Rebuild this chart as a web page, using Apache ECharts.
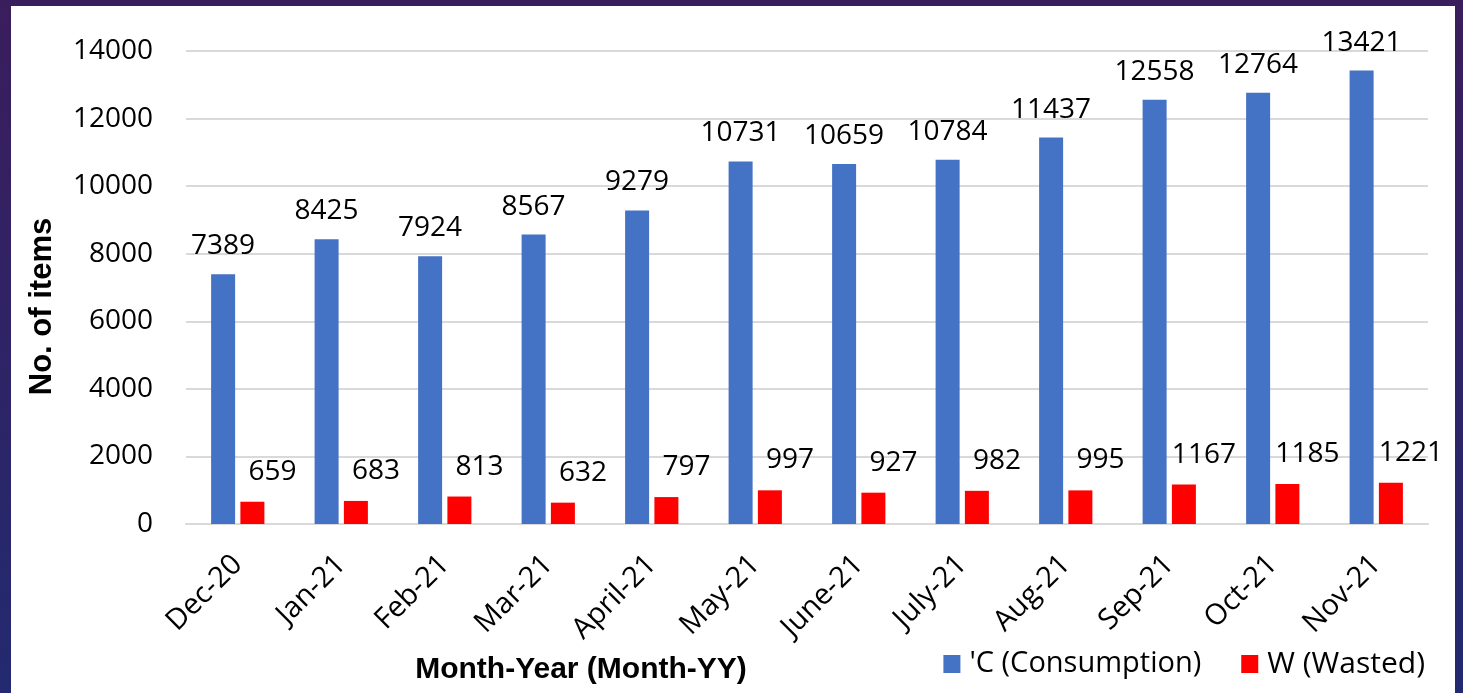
<!DOCTYPE html>
<html><head><meta charset="utf-8">
<script src="https://cdn.jsdelivr.net/npm/echarts@6/dist/echarts.min.js"></script>
<style>html,body{margin:0;padding:0;background:#2a2060;}#c{width:1463px;height:693px;}</style>
</head><body><div id="c"></div>
<script>
const categories = ['Dec-20','Jan-21','Feb-21','Mar-21','April-21','May-21','June-21','July-21','Aug-21','Sep-21','Oct-21','Nov-21'];
const consumption = [7389,8425,7924,8567,9279,10731,10659,10784,11437,12558,12764,13421];
const wasted = [659,683,813,632,797,997,927,982,995,1167,1185,1221];
const yTicks = {min:0, max:14000, interval:2000};
const seriesNames = ["'C (Consumption)", 'W (Wasted)'];

const FONT = '"Open Sans", "Noto Sans", sans-serif';
const BOLD = '"Liberation Sans", Arial, sans-serif';
const chart = echarts.init(document.getElementById('c'), null, {renderer:'canvas'});
chart.setOption({
  animation:false,
  backgroundColor:{type:'linear',x:0,y:0,x2:0,y2:1,colorStops:[{offset:0,color:'#3a1d5c'},{offset:1,color:'#232a70'}]},
  graphic:[{type:'rect',shape:{x:11,y:6,width:1444,height:700},style:{fill:'#ffffff'},z:-10}],
  grid:{left:186,right:35,top:51,bottom:169,containLabel:false},
  legend:{
    right:33, bottom:9, itemWidth:17, itemHeight:18, itemGap:40, icon:'rect',
    textStyle:{fontFamily:FONT,fontSize:29,color:'#000',padding:[0,0,0,4]},
    data:[{name:seriesNames[0]},{name:seriesNames[1],textStyle:{fontSize:30}}]
  },
  xAxis:{
    type:'category', data:categories,
    axisLine:{lineStyle:{color:'#d9d9d9',width:2}}, axisTick:{show:false},
    axisLabel:{rotate:45,fontFamily:FONT,fontSize:29,color:'#000',margin:36,interval:0},
    name:'Month-Year (Month-YY)', nameLocation:'middle', nameGap:131,
    nameTextStyle:{fontFamily:BOLD,fontWeight:'bold',fontSize:30,color:'#000',padding:[0,452,0,0]}
  },
  yAxis:{
    type:'value', min:yTicks.min, max:yTicks.max, interval:yTicks.interval,
    axisLine:{show:false}, axisTick:{show:false},
    splitLine:{lineStyle:{color:'#d9d9d9',width:2}},
    axisLabel:{fontFamily:FONT,fontSize:28,color:'#000',margin:33,formatter:v=>String(v)},
    name:'No. of items', nameLocation:'middle', nameGap:128,
    nameTextStyle:{fontFamily:BOLD,fontWeight:'bold',fontSize:31,color:'#000',padding:[0,38,0,0]}
  },
  series:[
    {name:seriesNames[0], type:'bar', data:consumption, barWidth:24, barGap:'22%',
     itemStyle:{color:'#4472c4'},
     label:{show:true,position:'top',distance:14,fontFamily:FONT,fontSize:28,color:'#000'}},
    {name:seriesNames[1], type:'bar', data:wasted, barWidth:24,
     itemStyle:{color:'#ff0000'},
     label:{show:true,position:'top',distance:16,offset:[20,0],fontFamily:FONT,fontSize:28,color:'#000'}}
  ]
});
</script></body></html>
